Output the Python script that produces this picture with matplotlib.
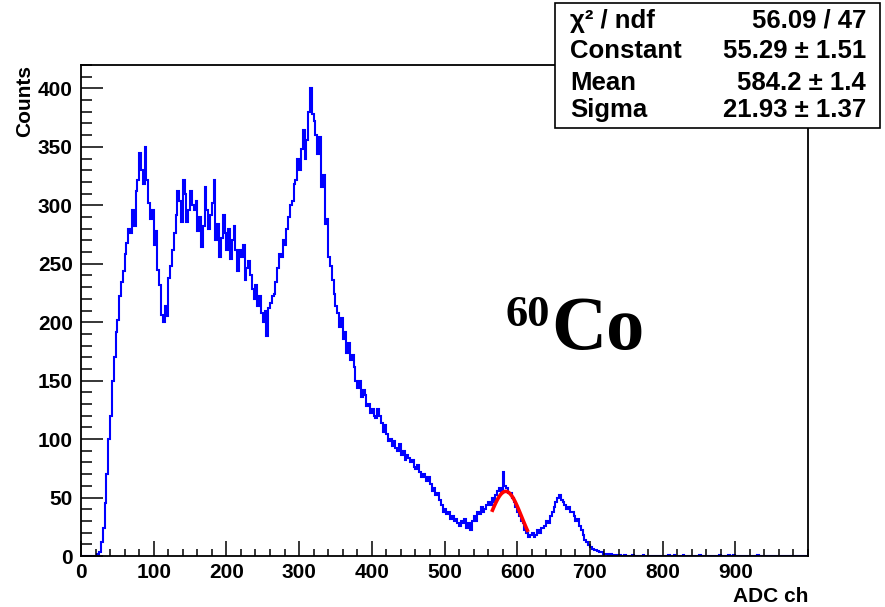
import numpy as np
import matplotlib
matplotlib.use("Agg")
import matplotlib.pyplot as plt
from matplotlib.patches import Rectangle
from matplotlib.ticker import MultipleLocator

plt.rcParams['font.family'] = ['Liberation Sans', 'DejaVu Sans']

# ADC spectrum of 60Co, 2.5 channels per bin starting at channel 0
bin_width = 2.5
# channels 0 - 760 (two bins per 5 channels)
counts_low = [
    0, 0, 0, 0, 0, 0, 0, 0, 0, 2,
    3, 12, 24, 45, 70, 100, 120, 150, 170, 192,
    202, 222, 234, 244, 258, 268, 280, 276, 296, 282,
    312, 322, 345, 330, 318, 350, 322, 302, 288, 296,
    266, 278, 245, 232, 206, 200, 214, 205, 238, 248,
    262, 276, 292, 312, 304, 286, 322, 310, 286, 296,
    312, 300, 296, 304, 278, 290, 264, 282, 316, 296,
    280, 292, 302, 322, 270, 284, 256, 272, 292, 276,
    262, 280, 254, 270, 282, 262, 244, 262, 256, 266,
    236, 246, 252, 240, 228, 220, 232, 214, 222, 208,
    200, 210, 188, 212, 216, 222, 224, 234, 246, 258,
    256, 270, 266, 280, 290, 300, 304, 318, 322, 340,
    330, 348, 364, 340, 356, 380, 400, 378, 372, 360,
    344, 358, 316, 326, 284, 288, 256, 248, 236, 224,
    214, 208, 196, 204, 186, 192, 174, 182, 168, 172,
    162, 150, 144, 150, 136, 142, 138, 128, 130, 122,
    126, 120, 118, 126, 120, 114, 106, 112, 104, 98,
    100, 94, 98, 92, 90, 96, 86, 90, 82, 86,
    84, 80, 82, 76, 74, 78, 72, 68, 70, 68,
    64, 68, 62, 56, 58, 52, 54, 48, 44, 38,
    40, 36, 38, 32, 34, 30, 32, 28, 26, 30,
    28, 32, 24, 28, 22, 30, 34, 30, 38, 36,
    42, 38, 40, 44, 46, 44, 50, 46, 52, 56,
    58, 54, 72, 60, 58, 54, 54, 50, 46, 42,
    38, 34, 30, 28, 22, 20, 16, 18, 20, 16,
    18, 22, 20, 24, 24, 26, 30, 28, 34, 38,
    42, 46, 50, 52, 48, 46, 44, 40, 42, 38,
    38, 34, 30, 32, 26, 22, 18, 14, 12, 9,
    8, 6, 5, 5, 4, 3, 3, 2, 2, 2,
    1, 2, 1, 1, 1, 0, 1, 0, 0, 1,
    0, 0, 0, 1,
]
# channels 760 - 1000, only a few scattered counts
counts_tail = [
    0, 0, 0, 0, 0, 1, 0, 0, 0, 0, 0, 0,
    0, 0, 0, 0, 0, 0, 0, 1, 0, 0, 1, 0,
    0, 0, 0, 1, 0, 0, 0, 0, 0, 0, 0, 0,
    1, 0, 0, 0, 0, 0, 0, 0, 0, 0, 0, 1,
    0, 0, 0, 0, 1, 0, 0, 1, 0, 0, 0, 0,
    0, 0, 0, 0, 0, 0, 0, 0, 1, 0, 0, 0,
    0, 0, 0, 0, 0, 0, 0, 0, 0, 0, 0, 0,
    0, 0, 0, 0, 0, 0, 0, 0, 0, 0, 0, 0,
]
counts = np.array(counts_low + counts_tail, dtype=float)
edges = np.arange(len(counts) + 1) * bin_width

# gaussian fit results
fit_const = 55.29
fit_mean = 584.2
fit_sigma = 21.93
fit_range = (566, 614)
stats_rows = [
    ("\u03c7\u00b2 / ndf", "56.09 / 47"),
    ("Constant", "55.29 \u00b1 1.51"),
    ("Mean", "584.2 \u00b1 1.4"),
    ("Sigma", "21.93 \u00b1 1.37"),
]

fig = plt.figure(figsize=(8.85, 6.07), dpi=100)
ax = fig.add_axes([81 / 885, 1 - 556 / 607, 727 / 885, 491 / 607])

ax.stairs(counts, edges, color="blue", linewidth=1.5)
xf = np.linspace(fit_range[0], fit_range[1], 100)
yf = fit_const * np.exp(-0.5 * ((xf - fit_mean) / fit_sigma) ** 2)
ax.plot(xf, yf, color="red", linewidth=2.6)

ax.set_xlim(0, 1000)
ax.set_ylim(0, 420)
ax.set_xticks(np.arange(0, 1000, 100))
ax.xaxis.set_minor_locator(MultipleLocator(20))
ax.yaxis.set_major_locator(MultipleLocator(50))
ax.yaxis.set_minor_locator(MultipleLocator(10))
ax.tick_params(axis="x", which="major", direction="in", length=10.8, width=1.1, pad=5)
ax.tick_params(axis="x", which="minor", direction="in", length=5.4, width=1.1)
ax.tick_params(axis="y", which="major", direction="in", length=15.8, width=1.1, pad=6)
ax.tick_params(axis="y", which="minor", direction="in", length=7.9, width=1.1)
for lab in ax.get_xticklabels() + ax.get_yticklabels():
    lab.set_fontsize(15)
    lab.set_fontweight("bold")
for s in ax.spines.values():
    s.set_linewidth(1.3)

fig.text(808 / 885, 1 - 597 / 607, "ADC ch", ha="right", va="center",
         fontsize=15, fontweight="bold")
fig.text(25 / 885, 1 - 65 / 607, "Counts", ha="center", va="top",
         rotation=90, fontsize=15, fontweight="bold")

# isotope label
fig.text(550 / 885, 1 - 315 / 607, "60", ha="right", va="center",
         fontsize=32, fontweight="bold", family="Liberation Serif")
fig.text(551 / 885, 1 - 349 / 607, "Co", ha="left", va="baseline",
         fontsize=55, fontweight="bold", family="Liberation Serif")

# fit statistics box
box = Rectangle((555 / 885, 1 - 128 / 607), 325 / 885, 125 / 607,
                transform=fig.transFigure, facecolor="white",
                edgecolor="black", linewidth=1.2, zorder=5)
fig.patches.append(box)
row_y = [21, 51, 83, 110]
for (name, val), y in zip(stats_rows, row_y):
    fig.text(570 / 885, 1 - y / 607, name, ha="left", va="center",
             fontsize=18.5, fontweight="bold", zorder=6)
    fig.text(866 / 885, 1 - y / 607, val, ha="right", va="center",
             fontsize=18.5, fontweight="bold", zorder=6)

fig.savefig("out.png", dpi=100)
